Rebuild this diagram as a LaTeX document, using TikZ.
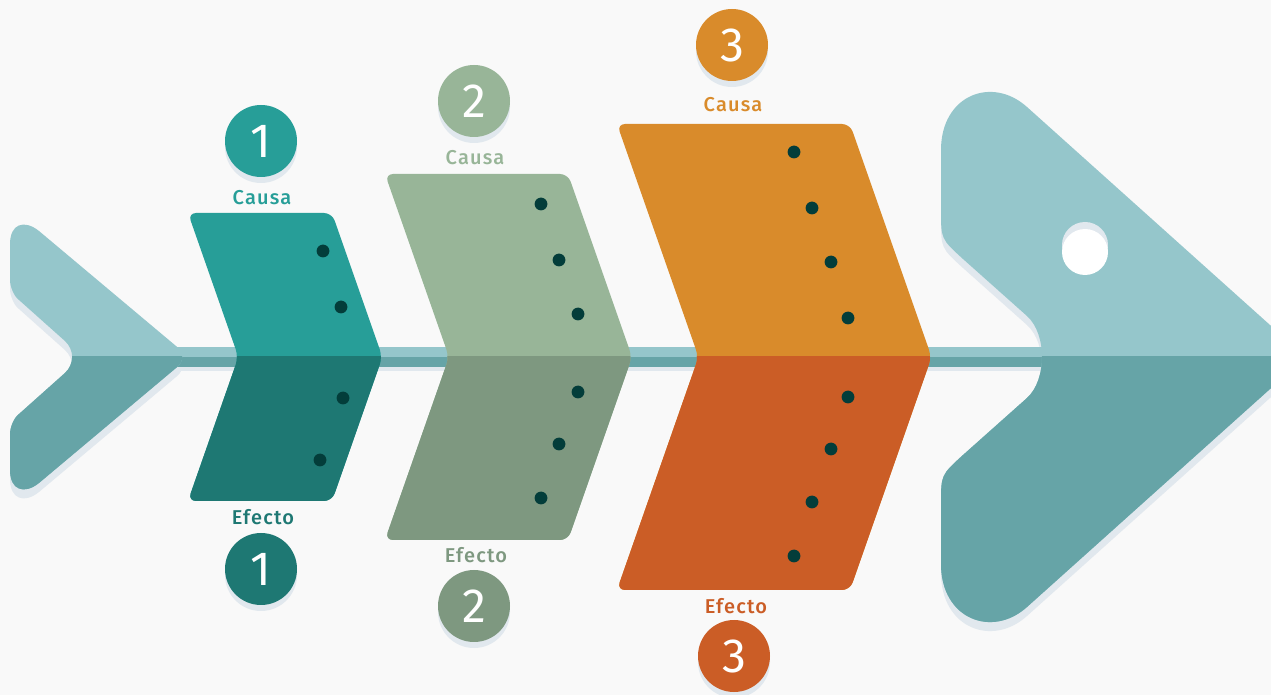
\documentclass[tikz,border=0pt]{standalone}
\usepackage{fontspec}
\setmainfont{Fira Sans}
\newfontfamily\tagfont{Fira Sans Medium}[LetterSpace=6]

\definecolor{paper}{HTML}{F9F9F9}
\definecolor{dropgrey}{HTML}{E1E8EE}
\definecolor{finlight}{HTML}{95C6CB}
\definecolor{findark}{HTML}{66A4A7}
\definecolor{causa1}{HTML}{279E98}
\definecolor{efecto1}{HTML}{1E7873}
\definecolor{causa2}{HTML}{98B598}
\definecolor{efecto2}{HTML}{7E9880}
\definecolor{causa3}{HTML}{D98B2B}
\definecolor{efecto3}{HTML}{CB5D26}
\definecolor{pip}{HTML}{033D3A}

\begin{document}
\begin{tikzpicture}[x=0.5pt,y=-0.5pt,
		numdot/.style={circle,minimum size=36pt,inner sep=0pt,text=white,
			font=\fontsize{24}{24}\selectfont,
			preaction={fill=dropgrey,transform canvas={yshift=-3pt}}},
		tag/.style={inner sep=0pt,font=\tagfont\fontsize{10}{10}\selectfont}]
		%NOTE! one unit is one pixel of the 1271x695 page, y grows downwards
		\useasboundingbox (0,0) rectangle (1271,695);
		\clip (0,0) rectangle (1271,695);
		\fill[paper] (0,0) rectangle (1271,695);
		
		% Outlines of tail and head (upper and lower halves in one piece)
		\def\tailoutline{(64.5,340.6) -- (19,300) .. controls (14,296.4) and (10,286.6) .. (10,280)
			-- (10,244) .. controls (10,224) and (24,219) .. (39,231)
			-- (177.3,347.1) .. controls (183.7,352.5) and (183.7,361.5) .. (177.3,366.9)
			-- (39,483) .. controls (24,495) and (10,490) .. (10,470)
			-- (10,434) .. controls (10,427.4) and (14,417.6) .. (19,414)
			-- (64.5,373.4) .. controls (74.7,364.4) and (74.7,349.6) .. (64.5,340.6) -- cycle}
		\def\headoutline{(1027,316) -- (963,259) .. controls (941,239) .. (941,210)
			-- (941,150) .. controls (941,95) and (992,75.5) .. (1027,107)
			-- (1270,325) .. controls (1292,345) and (1292,369) .. (1270,389)
			-- (1027,607) .. controls (992,638.5) and (941,619) .. (941,564)
			-- (941,504) .. controls (941,475) .. (963,455)
			-- (1027,398) .. controls (1047,380) and (1047,334) .. (1027,316) -- cycle}
		
		% Shadows
		\fill[dropgrey,shift={(0,9)}] \tailoutline;
		\fill[dropgrey,shift={(0,9)}] \headoutline;
		\fill[dropgrey] (150,351) rectangle (1100,371);
		
		% Spine
		\fill[finlight] (150,347) rectangle (1100,357);
		\fill[findark] (150,357) rectangle (1100,367);
		
		% Tail and head, the lower half darker
		\fill[finlight] \tailoutline;
		\fill[finlight] \headoutline;
		\begin{scope}
			\clip (0,357) rectangle (1271,695);
			\fill[findark] \tailoutline;
			\fill[findark] \headoutline;
		\end{scope}
		
		% Eye
		\fill[dropgrey] (1085,245) circle (11.5pt);
		\fill[white] (1085,252) circle (11.5pt);
		
		% Bones: {number, left x, half height}
		\foreach \i/\x/\h in {1/188/144, 2/385/183, 3/617/233}{
			\pgfmathsetmacro{\xn}{\x+0.35*\h}% notch on the spine
			\pgfmathsetmacro{\xr}{\x+\h}% right end of top edge
			\pgfmathsetmacro{\xp}{\x+1.35*\h}% point on the spine
			\pgfmathsetmacro{\yt}{357-\h}
			\pgfmathsetmacro{\yb}{357+\h}
			\def\boneoutline{[rounded corners=4pt] (\xn,357) -- (\x,\yt) -- (\xr,\yt) -- (\xp,357) -- (\xr,\yb) -- (\x,\yb) -- cycle}
			\fill[causa\i] \boneoutline;
			\begin{scope}
				\clip (0,357) rectangle (1271,695);
				\fill[efecto\i] \boneoutline;
			\end{scope}
		}
		
		% Bullets on the bones
		\foreach \px/\py in {323/251, 341/307, 343/398, 320/460,
			541/204, 559/260, 578/314, 578/392, 559/444, 541/498,
			794/152, 812/208, 831/262, 848/318, 848/397, 831/449, 812/502, 794/556}
		\fill[pip] (\px,\py) circle (3.2pt);
		
		% Numbers and labels above (Causa) and below (Efecto)
		\foreach \i/\cx/\cy/\ly in {1/261/141/198, 2/474/101/158, 3/732/45/105}{
			\node[numdot,fill=causa\i] (topnum\i) at (\cx,\cy) {\i};
			\node[tag,text=causa\i] (toptag\i) at (\cx+1,\ly) {Causa};
		}
		\foreach \i/\cx/\cy/\ly in {1/261/569/517, 2/474/606/555, 3/734/656/606}{
			\node[numdot,fill=efecto\i] (botnum\i) at (\cx,\cy) {\i};
			\node[tag,text=efecto\i] (bottag\i) at (\cx+2,\ly) {Efecto};
		}
	\end{tikzpicture}
\end{document}
